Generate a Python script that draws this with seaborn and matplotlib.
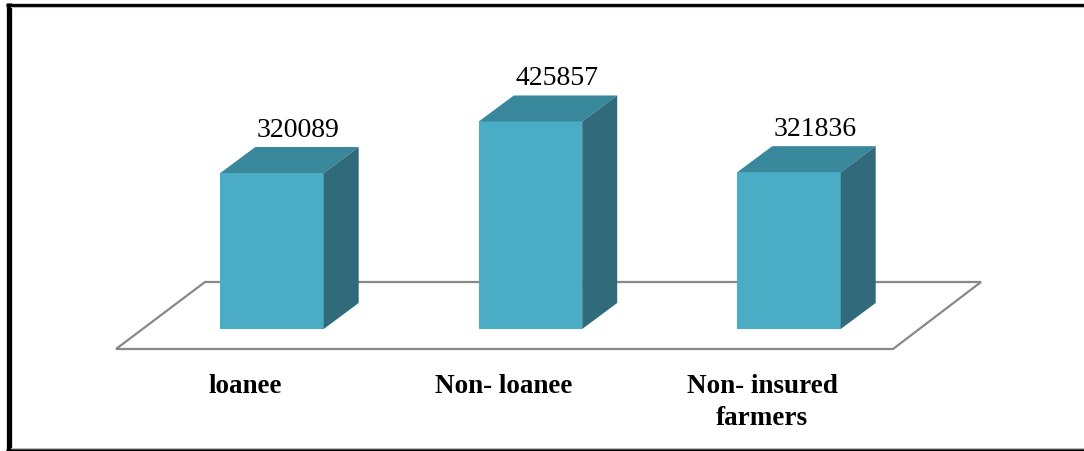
import pandas as pd
import matplotlib
matplotlib.use("Agg")
import matplotlib.pyplot as plt
from matplotlib.patches import Polygon
from matplotlib.lines import Line2D
import seaborn as sns

# data
categories = ["loanee", "Non- loanee", "Non- insured\nfarmers"]
farmers = [320089, 425857, 321836]
value_labels = ["320089", "425857", "321836"]

df = pd.DataFrame({"group": categories, "count": farmers})

FRONT = "#4BACC6"
TOP = "#39879A"
SIDE = "#316B7B"
SERIF = ["Liberation Serif", "DejaVu Serif"]

W, H = 1084, 451
fig = plt.figure(figsize=(W / 100, H / 100), dpi=100)
ax = fig.add_axes([0, 0, 1, 1])

sns.barplot(data=df, x="group", y="count", color=FRONT, saturation=1,
            width=0.4, linewidth=0, ax=ax, zorder=3)

# layout: pixel scale of the axes
px_x = 258.5      # pixels per category step
val_px = 2052     # value units per pixel
x0_px, y0_px = 272, 122
ax.set_xlim(-x0_px / px_x, (W - x0_px) / px_x)
ax.set_ylim(-y0_px * val_px, (H - y0_px) * val_px)
ax.axis("off")


def fx(p):
    return (p - x0_px) / px_x


def fy(p):
    return (H - p - y0_px) * val_px


# floor
floor = Polygon([(fx(116), fy(349)), (fx(893), fy(349)),
                 (fx(981), fy(282)), (fx(205), fy(282))],
                closed=True, fc="white", ec="#888888", lw=1.6, zorder=1)
ax.add_patch(floor)
ax.plot([fx(207), fx(979)], [fy(284), fy(284)], color="#dcdcdc", lw=1.5, zorder=0.9)

# 3D faces
dx, dy = 35 / px_x, 26 * val_px
for p, lab in zip(ax.patches[:len(farmers)], value_labels):
    x, w, h = p.get_x(), p.get_width(), p.get_height()
    ax.add_patch(Polygon([(x, h), (x + w, h), (x + w + dx, h + dy), (x + dx, h + dy)],
                         closed=True, fc=TOP, ec="none", zorder=3))
    ax.add_patch(Polygon([(x + w, 0), (x + w + dx, dy), (x + w + dx, h + dy), (x + w, h)],
                         closed=True, fc=SIDE, ec="none", zorder=3))
    ax.text(x + w / 2 + 26 / px_x, h + dy + 10 * val_px, lab, ha="center",
            va="baseline", fontsize=20, family=SERIF, color="black")

# category labels
for i, cat in enumerate(categories):
    ax.text(i - 27 / px_x, fy(393), cat.split("\n")[0], ha="center", va="baseline",
            fontsize=19.5, fontweight="bold", family=SERIF)
    if "\n" in cat:
        ax.text(i - 27 / px_x, fy(425), cat.split("\n")[1], ha="center", va="baseline",
                fontsize=19.5, fontweight="bold", family=SERIF)

# frame
fig.add_artist(Line2D([8.5 / W, 8.5 / W], [0, 1 - 3 / H], color="black", lw=3.8,
                      transform=fig.transFigure, solid_capstyle="butt"))
fig.add_artist(Line2D([6 / W, 1], [1 - 4.5 / H, 1 - 4.5 / H], color="black", lw=2.4,
                      transform=fig.transFigure, solid_capstyle="butt"))
fig.add_artist(Line2D([11 / W, 1], [1 - 7 / H, 1 - 7 / H], color="#bbbbbb", lw=0.8,
                      transform=fig.transFigure))
fig.add_artist(Line2D([6 / W, 1], [1.2 / H, 1.2 / H], color="black", lw=1.8,
                      transform=fig.transFigure, solid_capstyle="butt"))
fig.add_artist(Line2D([11 / W, 1], [3.5 / H, 3.5 / H], color="#bbbbbb", lw=0.8,
                      transform=fig.transFigure))

fig.savefig("out.png", dpi=100)
